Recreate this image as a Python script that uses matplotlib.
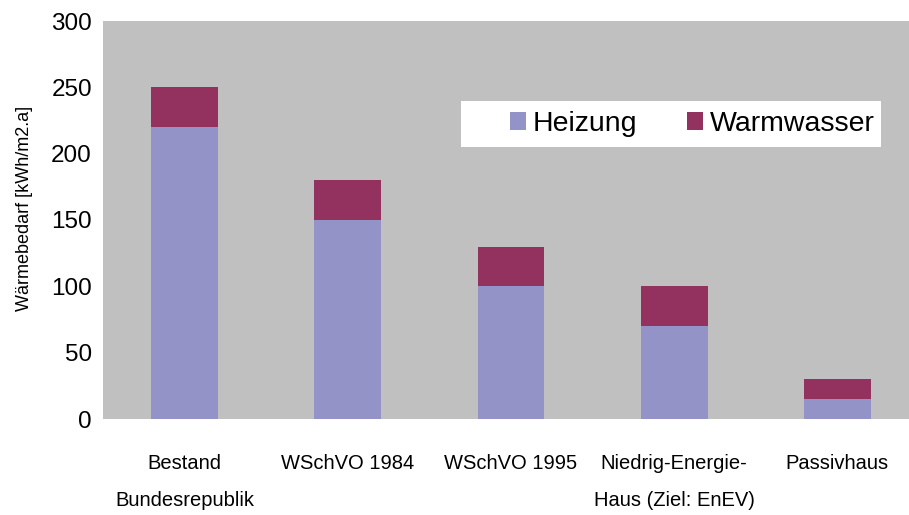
import numpy as np
import matplotlib.pyplot as plt
from matplotlib.patches import Rectangle

# data
categories = ['Bestand\nBundesrepublik', 'WSchVO 1984', 'WSchVO 1995',
              'Niedrig-Energie-\nHaus (Ziel: EnEV)', 'Passivhaus']
heizung = [220, 150, 100, 70, 15]
warmwasser = [30, 30, 30, 30, 15]

regular = ['Liberation Sans', 'DejaVu Sans']

fig = plt.figure(figsize=(9.09, 5.15), dpi=100)
ax = fig.add_axes([103 / 909, 96 / 515, 816 / 909, 398 / 515])
ax.set_facecolor('#C0C0C0')

x = np.arange(len(categories))
ax.bar(x, heizung, width=0.41, color='#9393C7', label='Heizung')
ax.bar(x, warmwasser, width=0.41, bottom=heizung, color='#93325F', label='Warmwasser')

ax.set_xlim(-0.5, len(categories) - 0.5)
ax.set_ylim(0, 300)
ax.set_yticks(np.arange(0, 301, 50))
for s in ax.spines.values():
    s.set_visible(False)
ax.tick_params(axis='both', length=0)
ax.tick_params(axis='y', pad=8)
ax.tick_params(axis='x', pad=25)
for t in ax.get_yticklabels():
    t.set_family(regular)
    t.set_fontsize(17.5)
ax.set_xticks(x)
ax.set_xticklabels(categories, family=regular, fontsize=14.5, linespacing=2.2)

ax.set_ylabel('Wärmebedarf [kWh/m2.a]', family=regular, fontsize=13)
ax.yaxis.set_label_coords(-0.086, 0.528)

# white legend box like the original
fig.patches.append(Rectangle((461 / 909, 1 - 147 / 515), 420 / 909, 46 / 515,
                             transform=fig.transFigure, facecolor='white',
                             edgecolor='none', zorder=5))
leg = fig.legend(loc='center left', bbox_to_anchor=(496 / 909, 1 - 124 / 515),
                 ncol=2, frameon=False, borderpad=0, handlelength=0.55,
                 handleheight=0.55, handletextpad=0.25, columnspacing=1.75,
                 prop={'family': regular, 'size': 20.5})
leg.set_zorder(6)

fig.savefig('out.png', dpi=100)
